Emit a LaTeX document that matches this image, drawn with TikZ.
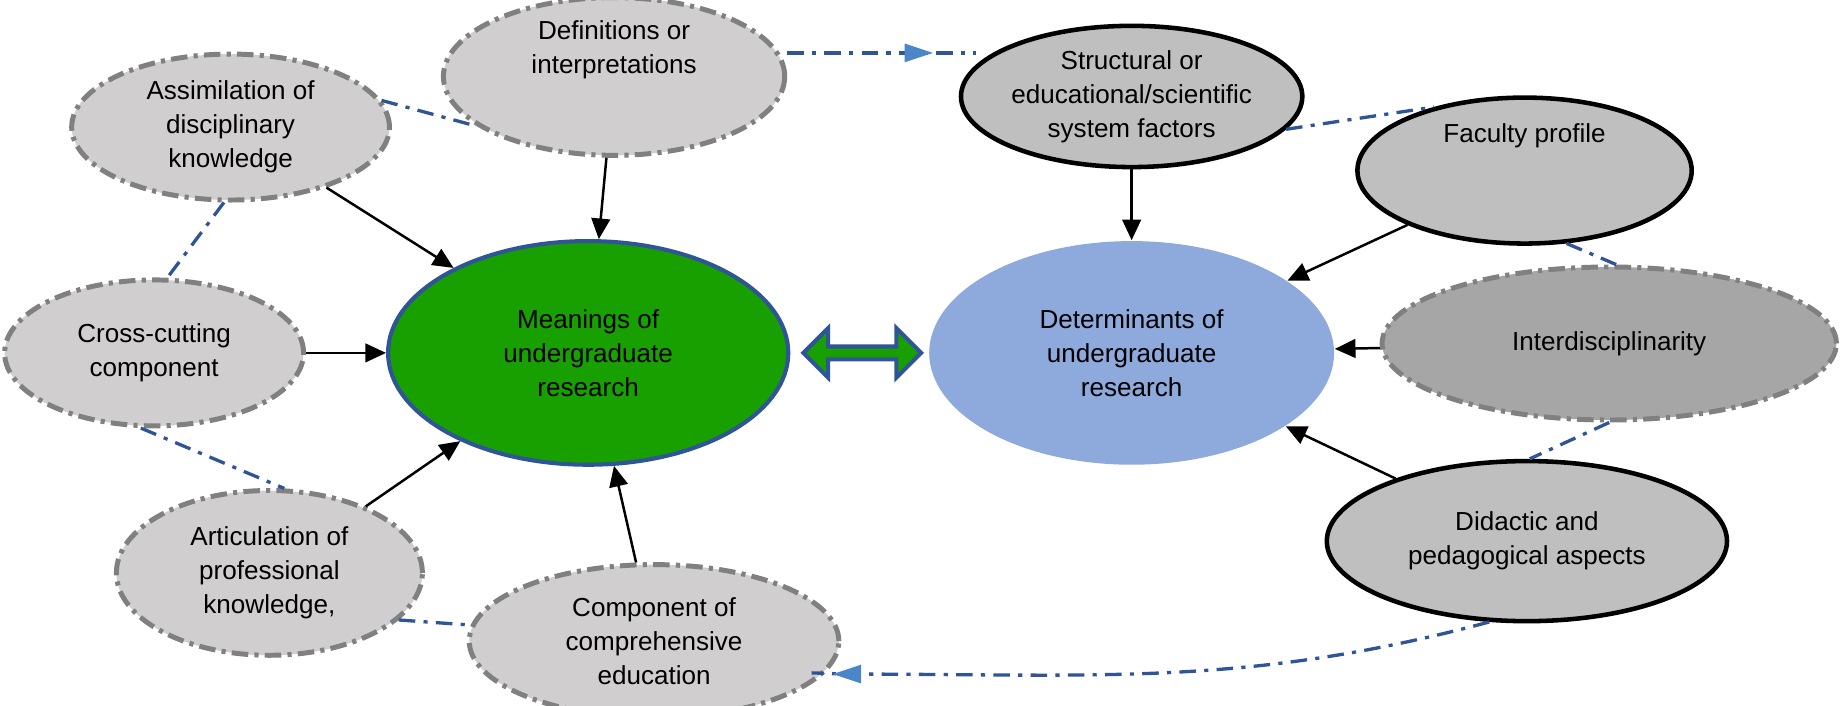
\documentclass[tikz,border=0pt]{standalone}
\usepackage{fontspec}
\setmainfont{Liberation Sans}
\usetikzlibrary{shapes.geometric,shapes.arrows,arrows.meta}
\definecolor{lgray}{HTML}{D0CECE}
\definecolor{mgray}{HTML}{BFBFBF}
\definecolor{dgray}{HTML}{A6A6A6}
\definecolor{mgreen}{HTML}{18A000}
\definecolor{mblue}{HTML}{8EA9DB}
\definecolor{lnblue}{HTML}{2F5597}
\definecolor{tipblue}{HTML}{4A86C8}
\tikzset{
  oval/.style={ellipse, inner sep=0pt, align=center, font=\fontsize{6.3}{8.2}\selectfont},
  dashoval/.style={oval, fill=lgray, draw=gray, line width=1.2pt, dash pattern=on 4pt off 1.5pt on 1pt off 1.5pt},
  solidoval/.style={oval, fill=mgray, draw=black, line width=1.1pt},
  link/.style={-{Triangle[length=5pt,width=4.5pt]}, line width=0.6pt},
  tie/.style={draw=lnblue, line width=0.8pt, dash pattern=on 4pt off 2pt on 1pt off 2pt},
}
\begin{document}
\begin{tikzpicture}[x=0.01cm,y=-0.01cm]
% middle
\node[oval, fill=mgreen, draw=lnblue, line width=1pt, minimum width=3.4cm, minimum height=1.9cm] (mean) at (500,300) {Meanings of\\undergraduate\\research};
\node[oval, fill=mblue, minimum width=3.44cm, minimum height=1.9cm] (det) at (962,300) {Determinants of\\undergraduate\\research};
\node[double arrow, fill=mgreen, draw=lnblue, line width=1pt, minimum height=1cm, minimum width=0.42cm, double arrow head extend=0.05cm, inner sep=0pt] (both) at (733,300) {};
% left group
\node[dashoval, minimum width=2.9cm, minimum height=1.24cm] (defi) at (522,65) {Definitions or\\interpretations\\[6pt]};
\node[dashoval, minimum width=2.7cm, minimum height=1.24cm] (assi) at (196,108) {Assimilation of\\disciplinary\\knowledge};
\node[dashoval, minimum width=2.54cm, minimum height=1.24cm] (cross) at (131,300) {Cross-cutting\\component};
\node[dashoval, minimum width=2.6cm, minimum height=1.4cm] (arti) at (229,487) {Articulation of\\professional\\knowledge,};
\node[dashoval, minimum width=3.14cm, minimum height=1.3cm] (comp) at (556,545) {Component of\\comprehensive\\education};
% right group
\node[solidoval, minimum width=2.9cm, minimum height=1.2cm] (stru) at (962,82) {Structural or\\educational/scientific\\system factors};
\node[solidoval, minimum width=2.84cm, minimum height=1.24cm] (facu) at (1296,145) {Faculty profile\\[10pt]};
\node[dashoval, fill=dgray, minimum width=3.86cm, minimum height=1.3cm] (inter) at (1368,292) {Interdisciplinarity};
\node[solidoval, minimum width=3.4cm, minimum height=1.36cm] (dida) at (1298,460) {Didactic and\\pedagogical aspects};
% black arrows
\draw[link] (assi) -- (mean);
\draw[link] (defi) -- (mean);
\draw[link] (cross) -- (mean);
\draw[link] (arti) -- (mean);
\draw[link] (comp) -- (mean);
\draw[link] (stru) -- (det);
\draw[link] (facu) -- (det);
\draw[link] (inter) -- (det);
\draw[link] (dida) -- (det);
% dash-dot ties
\coordinate (tipA) at (783,45);
\draw[tie] (defi.east |- tipA) -- (tipA) -- (830,45);
\fill[tipblue] (tipA) ++(-14,-8) -- ++(24,8) -- ++(-24,8) -- cycle;
\draw[tie] (assi.10) -- (defi.200);
\draw[tie] (assi.-95) -- (cross.80);
\draw[tie] (cross.-100) -- (arti.80);
\draw[tie] (arti.-20) -- (comp.175);
\draw[tie] (stru.-12) -- (facu.145);
\draw[tie] (facu.-60) -- (inter.85);
\draw[tie] (inter.-90) -- (dida.88);
\coordinate (tipB) at (718,573);
\draw[tie] (dida.-115) to[out=-165,in=0] (tipB) -- (690,572);
\fill[tipblue] (tipB) ++(14,-8) -- ++(-24,8) -- ++(24,8) -- cycle;
\pgfresetboundingbox
\useasboundingbox (0,0) rectangle (1565,600);
\end{tikzpicture}
\end{document}
